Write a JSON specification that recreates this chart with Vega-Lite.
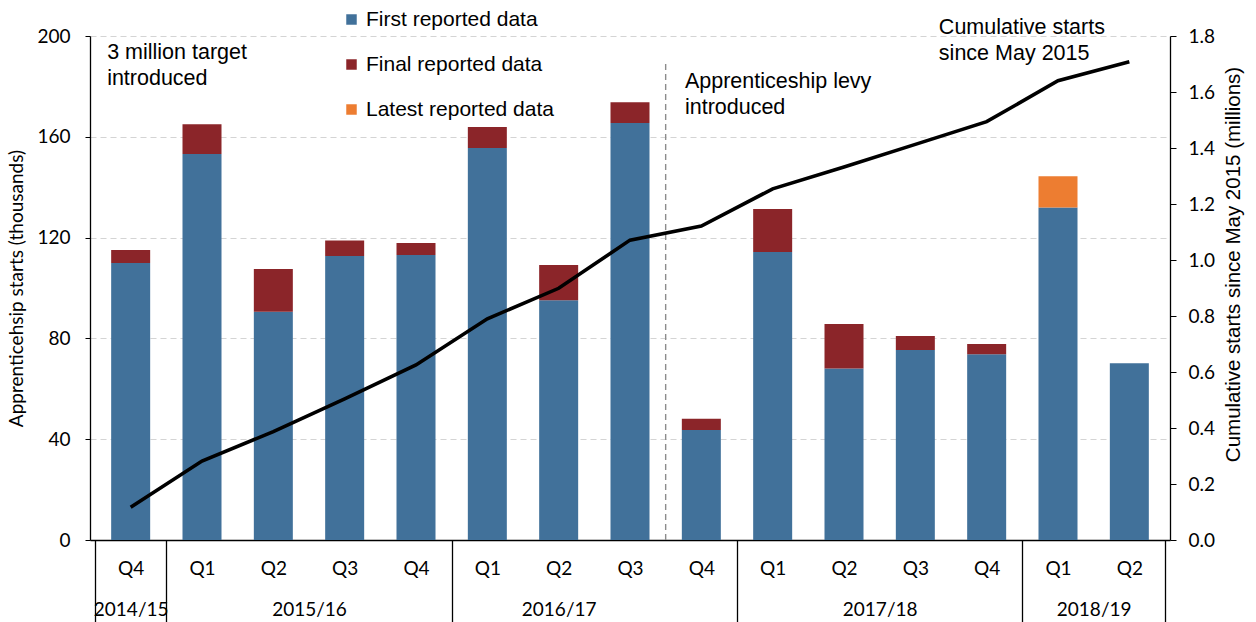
{
  "$schema": "https://vega.github.io/schema/vega-lite/v6.json",
  "width": 1080,
  "height": 504,
  "autosize": "none",
  "padding": {"left": 90, "top": 36, "right": 86, "bottom": 82},
  "background": "white",
  "config": {
    "view": {"stroke": null},
    "axis": {"labelFont": "Lato", "labelFontSize": 18, "labelColor": "#000000", "titleFont": "Lato", "titleFontSize": 19, "titleFontWeight": "normal", "titleColor": "#000000", "domainColor": "#000000", "tickColor": "#000000"}
  },
  "datasets": {
    "bars": [
      {"idx": 1, "series": "First reported data", "k": 1, "value": 109.9},
      {"idx": 1, "series": "Final reported data", "k": 2, "value": 5.2},
      {"idx": 2, "series": "First reported data", "k": 1, "value": 153.2},
      {"idx": 2, "series": "Final reported data", "k": 2, "value": 11.8},
      {"idx": 3, "series": "First reported data", "k": 1, "value": 90.6},
      {"idx": 3, "series": "Final reported data", "k": 2, "value": 16.9},
      {"idx": 4, "series": "First reported data", "k": 1, "value": 112.7},
      {"idx": 4, "series": "Final reported data", "k": 2, "value": 6.1},
      {"idx": 5, "series": "First reported data", "k": 1, "value": 113.1},
      {"idx": 5, "series": "Final reported data", "k": 2, "value": 4.8},
      {"idx": 6, "series": "First reported data", "k": 1, "value": 155.6},
      {"idx": 6, "series": "Final reported data", "k": 2, "value": 8.3},
      {"idx": 7, "series": "First reported data", "k": 1, "value": 95.1},
      {"idx": 7, "series": "Final reported data", "k": 2, "value": 14.0},
      {"idx": 8, "series": "First reported data", "k": 1, "value": 165.5},
      {"idx": 8, "series": "Final reported data", "k": 2, "value": 8.2},
      {"idx": 9, "series": "First reported data", "k": 1, "value": 43.7},
      {"idx": 9, "series": "Final reported data", "k": 2, "value": 4.4},
      {"idx": 10, "series": "First reported data", "k": 1, "value": 114.3},
      {"idx": 10, "series": "Final reported data", "k": 2, "value": 17.0},
      {"idx": 11, "series": "First reported data", "k": 1, "value": 68.1},
      {"idx": 11, "series": "Final reported data", "k": 2, "value": 17.6},
      {"idx": 12, "series": "First reported data", "k": 1, "value": 75.4},
      {"idx": 12, "series": "Final reported data", "k": 2, "value": 5.6},
      {"idx": 13, "series": "First reported data", "k": 1, "value": 73.7},
      {"idx": 13, "series": "Final reported data", "k": 2, "value": 4.1},
      {"idx": 14, "series": "First reported data", "k": 1, "value": 131.9},
      {"idx": 14, "series": "Latest reported data", "k": 3, "value": 12.4},
      {"idx": 15, "series": "First reported data", "k": 1, "value": 70.1}
    ],
    "line": [
      {"idx": 1, "cum": 0.117}, {"idx": 2, "cum": 0.282}, {"idx": 3, "cum": 0.387},
      {"idx": 4, "cum": 0.504}, {"idx": 5, "cum": 0.625}, {"idx": 6, "cum": 0.790},
      {"idx": 7, "cum": 0.899}, {"idx": 8, "cum": 1.071}, {"idx": 9, "cum": 1.121},
      {"idx": 10, "cum": 1.254}, {"idx": 11, "cum": 1.332}, {"idx": 12, "cum": 1.413},
      {"idx": 13, "cum": 1.494}, {"idx": 14, "cum": 1.640}, {"idx": 15, "cum": 1.708}
    ],
    "levy": [{"idx": 8.5, "y0": 0, "y1": 190}],
    "notes": [
      {"idx": 0.67, "y": 197.5, "label": "3 million target\nintroduced"},
      {"idx": 8.77, "y": 186, "label": "Apprenticeship levy\nintroduced"},
      {"idx": 12.33, "y": 207.5, "label": "Cumulative starts\nsince May 2015"}
    ]
  },
  "encoding": {
    "x": {
      "field": "idx",
      "type": "quantitative",
      "scale": {"domain": [0.5, 15.5], "nice": false, "zero": false},
      "axis": {
        "title": null,
        "grid": false,
        "values": [0.5, 1, 1.5, 2, 3, 3.5, 4, 5, 5.5, 6, 7, 8, 9, 9.5, 10, 11, 11.5, 12, 13, 13.5, 14, 14.5, 15, 15.5],
        "labelExpr": "datum.value == 1 ? ['Q4','2014/15'] : datum.value == 7 ? ['Q2','2016/17'] : datum.value == 3.5 ? [' ','2015/16'] : datum.value == 11.5 ? [' ','2017/18'] : datum.value == 14.5 ? [' ','2018/19'] : datum.value % 1 == 0 ? ['Q3','Q4','Q1','Q2'][datum.value % 4] : ''",
        "labelOverlap": false,
        "labelBound": false,
        "labelFlush": false,
        "labelBaseline": "top",
        "labelFontSize": 19,
        "labelLineHeight": 41,
        "tickSize": 83,
        "tickWidth": 1.3,
        "tickOpacity": {"condition": {"test": "indexof([0.5,1.5,5.5,9.5,13.5,15.5], datum.value) >= 0", "value": 1}, "value": 0},
        "labelPadding": -64,
        "domainWidth": 1.3
      }
    }
  },
  "layer": [
    {
      "layer": [
        {
          "data": {"name": "bars"},
          "mark": {"type": "bar", "width": 39},
          "encoding": {
            "y": {
              "field": "value",
              "type": "quantitative",
              "stack": "zero",
              "scale": {"domain": [0, 200], "nice": false},
              "axis": {
                "title": "Apprenticehsip starts (thousands)",
                "values": [0, 40, 80, 120, 160, 200],
                "grid": true,
                "gridDash": [6, 4],
                "gridColor": "#d4d4d4",
                "gridWidth": 1.2,
                "tickSize": 5,
                "labelFontSize": 19,
                "labelPadding": 15,
                "titlePadding": 10,
                "domainWidth": 1.3
              }
            },
            "color": {
              "field": "series",
              "type": "nominal",
              "scale": {
                "domain": ["First reported data", "Final reported data", "Latest reported data"],
                "range": ["#41719a", "#8b2529", "#ed7d31"]
              },
              "legend": {
                "title": null,
                "orient": "none",
                "legendX": 251,
                "legendY": -27,
                "direction": "vertical",
                "symbolType": "square",
                "symbolSize": 110,
                "symbolStrokeWidth": 0,
                "labelFont": "Liberation Sans",
                "labelFontSize": 21,
                "labelColor": "#000000",
                "labelLimit": 0,
                "labelOffset": 4,
                "rowPadding": 23,
                "padding": 0
              }
            },
            "order": {"field": "k", "type": "quantitative"}
          }
        },
        {
          "data": {"name": "levy"},
          "mark": {"type": "rule", "color": "#8c8c8c", "strokeDash": [6, 4], "strokeWidth": 1.4},
          "encoding": {
            "y": {"field": "y0", "type": "quantitative"},
            "y2": {"field": "y1"}
          }
        },
        {
          "data": {"name": "notes"},
          "mark": {"type": "text", "align": "left", "baseline": "top", "font": "Liberation Sans", "fontSize": 21.5, "lineHeight": 26, "lineBreak": "\n", "color": "#000000"},
          "encoding": {
            "y": {"field": "y", "type": "quantitative"},
            "text": {"field": "label"}
          }
        }
      ]
    },
    {
      "data": {"name": "line"},
      "mark": {"type": "line", "color": "#000000", "strokeWidth": 3.6},
      "encoding": {
        "y": {
          "field": "cum",
          "type": "quantitative",
          "scale": {"domain": [0, 1.8], "nice": false},
          "axis": {
            "orient": "right",
            "title": "Cumulative starts since May 2015  (millions)",
            "titleFont": "Liberation Sans",
            "titleFontSize": 20.5,
            "titleAngle": 270,
            "titleBaseline": "top",
            "titleY": 228,
            "titleAlign": "center",
            "values": [0, 0.2, 0.4, 0.6, 0.8, 1.0, 1.2, 1.4, 1.6, 1.8],
            "format": ".1f",
            "grid": false,
            "tickSize": 6,
            "labelFontSize": 19,
            "labelPadding": 12,
            "titlePadding": 9,
            "domainWidth": 1.3
          }
        }
      }
    }
  ],
  "resolve": {"scale": {"y": "independent"}}
}
